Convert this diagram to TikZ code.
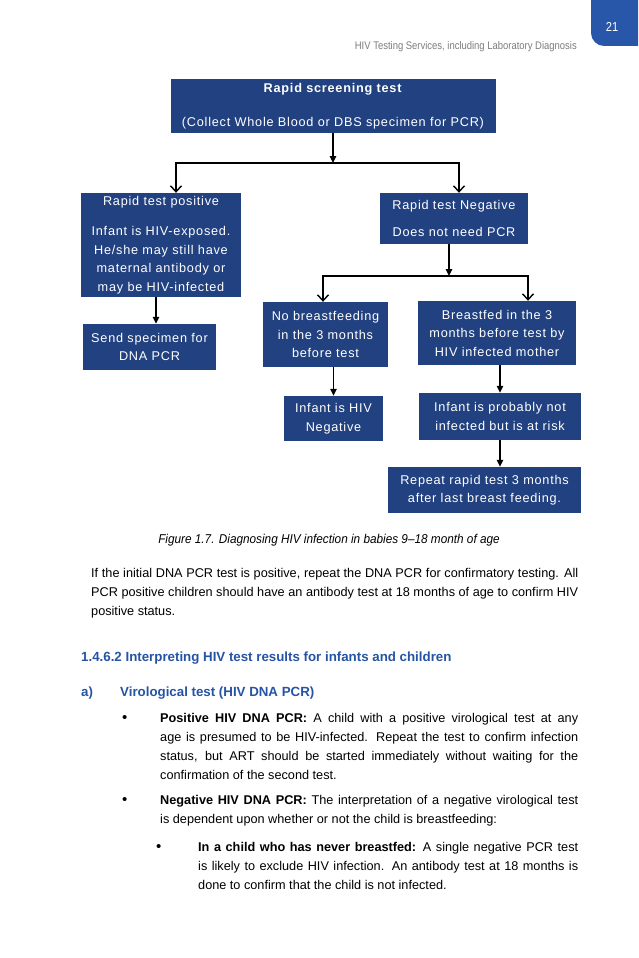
\documentclass[tikz,border=0pt]{standalone}
\usepackage{fontspec}
\setmainfont{Liberation Sans}
\newfontfamily\boxfont[LetterSpace=6]{Liberation Sans}
\newfontfamily\hdrfont[FakeStretch=0.86]{Liberation Sans}
\newfontfamily\capfont[FakeStretch=0.92]{Liberation Sans}
\usetikzlibrary{arrows.meta}
\definecolor{boxblue}{RGB}{34,65,128}
\definecolor{headblue}{RGB}{38,84,164}
\definecolor{tabblue}{RGB}{40,86,168}
\definecolor{graytext}{RGB}{125,125,125}
\begin{document}
\begin{tikzpicture}[x=1pt,y=-1pt,
  fbox/.style={fill=boxblue, text=white, inner sep=0pt, align=center,
    font=\boxfont\fontsize{12.7}{18.5}\selectfont},
  arr/.style={line width=1.4pt, -{Triangle[length=7pt,width=6.5pt]}},
  barb/.style={line width=1.4pt, line join=miter, -{Straight Barb[length=6pt,width=11pt,line width=1.4pt]}},
  body/.style={inner sep=0pt, anchor=base west, align=justify,
    font=\fontsize{12.7}{19}\selectfont},
  bul/.style={inner sep=0pt, anchor=base west, font=\fontsize{15}{19}\selectfont},
  headtxt/.style={inner sep=0pt, anchor=base west, text=headblue, font=\bfseries\fontsize{13.3}{16}\selectfont},
]
\useasboundingbox (0,0) rectangle (638,958);
\fill[white] (0,0) rectangle (638,958);

% header
\fill[tabblue] (591,0) -- (638,0) -- (638,46) -- (604,46) .. controls (597,46) and (591,40) .. (591,33) -- cycle;
\node[inner sep=0pt, text=white, font=\hdrfont\fontsize{13}{14}\selectfont] (pnum) at (612,27) {21};
\node[inner sep=0pt, anchor=base east, text=graytext, font=\hdrfont\fontsize{11}{12}\selectfont] (hdr) at (577,50)
  {HIV Testing Services, including Laboratory Diagnosis};

% flowchart boxes
\node[fbox, minimum width=325pt, minimum height=54pt] (top) at (333,106)
  {\textbf{Rapid screening test}\\[15pt](Collect Whole Blood or DBS specimen for PCR)};
\node[fbox, minimum width=160pt, minimum height=104pt] (pos) at (161,245)
  {Rapid test positive\\[11.5pt]Infant is HIV-exposed.\\He/she may still have\\maternal antibody or\\may be HIV-infected};
\node[fbox, minimum width=133pt, minimum height=46pt] (send) at (149.5,347)
  {Send specimen for\\DNA PCR};
\node[fbox, minimum width=148pt, minimum height=51pt] (neg) at (454,218.5)
  {Rapid test Negative\\[8.5pt]Does not need PCR};
\node[fbox, minimum width=125pt, minimum height=65pt] (nobf) at (325.5,334.5)
  {No breastfeeding\\in the 3 months\\before test};
\node[fbox, minimum width=158pt, minimum height=64pt] (bf) at (497,333)
  {Breastfed in the 3\\months before test by\\HIV infected mother};
\node[fbox, minimum width=99pt, minimum height=45pt] (hivneg) at (333.5,418.5)
  {Infant is HIV\\Negative};
\node[fbox, minimum width=162pt, minimum height=47pt] (prob) at (500,416.5)
  {Infant is probably not\\infected but is at risk};
\node[fbox, minimum width=193pt, minimum height=46pt] (rep) at (484.5,490)
  {Repeat rapid test 3 months\\after last breast feeding.};

% connectors
\coordinate (j1) at (333,163);
\coordinate (j1L) at (176,163);
\coordinate (j1R) at (459,163);
\draw[arr] (top.south -| j1) -- (j1);
\draw[barb] (j1) -- (j1L) -- (j1L |- pos.north);
\draw[barb] (j1) -- (j1R) -- (j1R |- neg.north);

\coordinate (sx) at ([xshift=-5pt]pos.south);
\draw[arr] (sx) -- (sx |- send.north);

\coordinate (j2) at (449,276);
\coordinate (j2L) at (323,276);
\coordinate (j2R) at (528,276);
\draw[arr] (neg.south -| j2) -- (j2);
\draw[barb] (j2) -- (j2L) -- (j2L |- nobf.north);
\draw[barb] (j2) -- (j2R) -- (j2R |- bf.north);

\draw[arr] (nobf.south -| hivneg.north) -- (hivneg.north);
\draw[arr] (prob.north |- bf.south) -- (prob.north);
\draw[arr] (prob.south) -- (prob.south |- rep.north);

% caption
\node[inner sep=0pt, anchor=base, font=\capfont\itshape\fontsize{12.8}{14}\selectfont] (cap) at (329,543)
  {Figure 1.7. Diagnosing HIV infection in babies 9–18 month of age};

% body text
\node[body, text width=487pt] (para) at (91,577)
  {If the initial DNA PCR test is positive, repeat the DNA PCR for confirmatory testing. All\linebreak
   PCR positive children should have an antibody test at 18 months of age to confirm HIV\linebreak
   positive status.};

\node[headtxt] (head) at (81,661)
  {1.4.6.2 Interpreting HIV test results for infants and children};

\node[headtxt] (alab) at (81,696) {a)};
\node[headtxt] (atitle) at (120,696) {Virological test (HIV DNA PCR)};

\node[bul] (b1) at (122,722) {\textbullet};
\node[body, text width=418pt] (t1) at (160,722)
  {\textbf{Positive HIV DNA PCR:} A child with a positive virological test at any\linebreak
   age is presumed to be HIV-infected. Repeat the test to confirm infection\linebreak
   status, but ART should be started immediately without waiting for the\linebreak
   confirmation of the second test.};

\node[bul] (b2) at (122,804) {\textbullet};
\node[body, text width=418pt] (t2) at (160,804)
  {\textbf{Negative HIV DNA PCR:} The interpretation of a negative virological test\linebreak
   is dependent upon whether or not the child is breastfeeding:};

\node[bul] (b3) at (156,851) {\textbullet};
\node[body, text width=380pt] (t3) at (198,851)
  {\textbf{In a child who has never breastfed:} A single negative PCR test\linebreak
   is likely to exclude HIV infection. An antibody test at 18 months is\linebreak
   done to confirm that the child is not infected.};
\end{tikzpicture}
\end{document}
